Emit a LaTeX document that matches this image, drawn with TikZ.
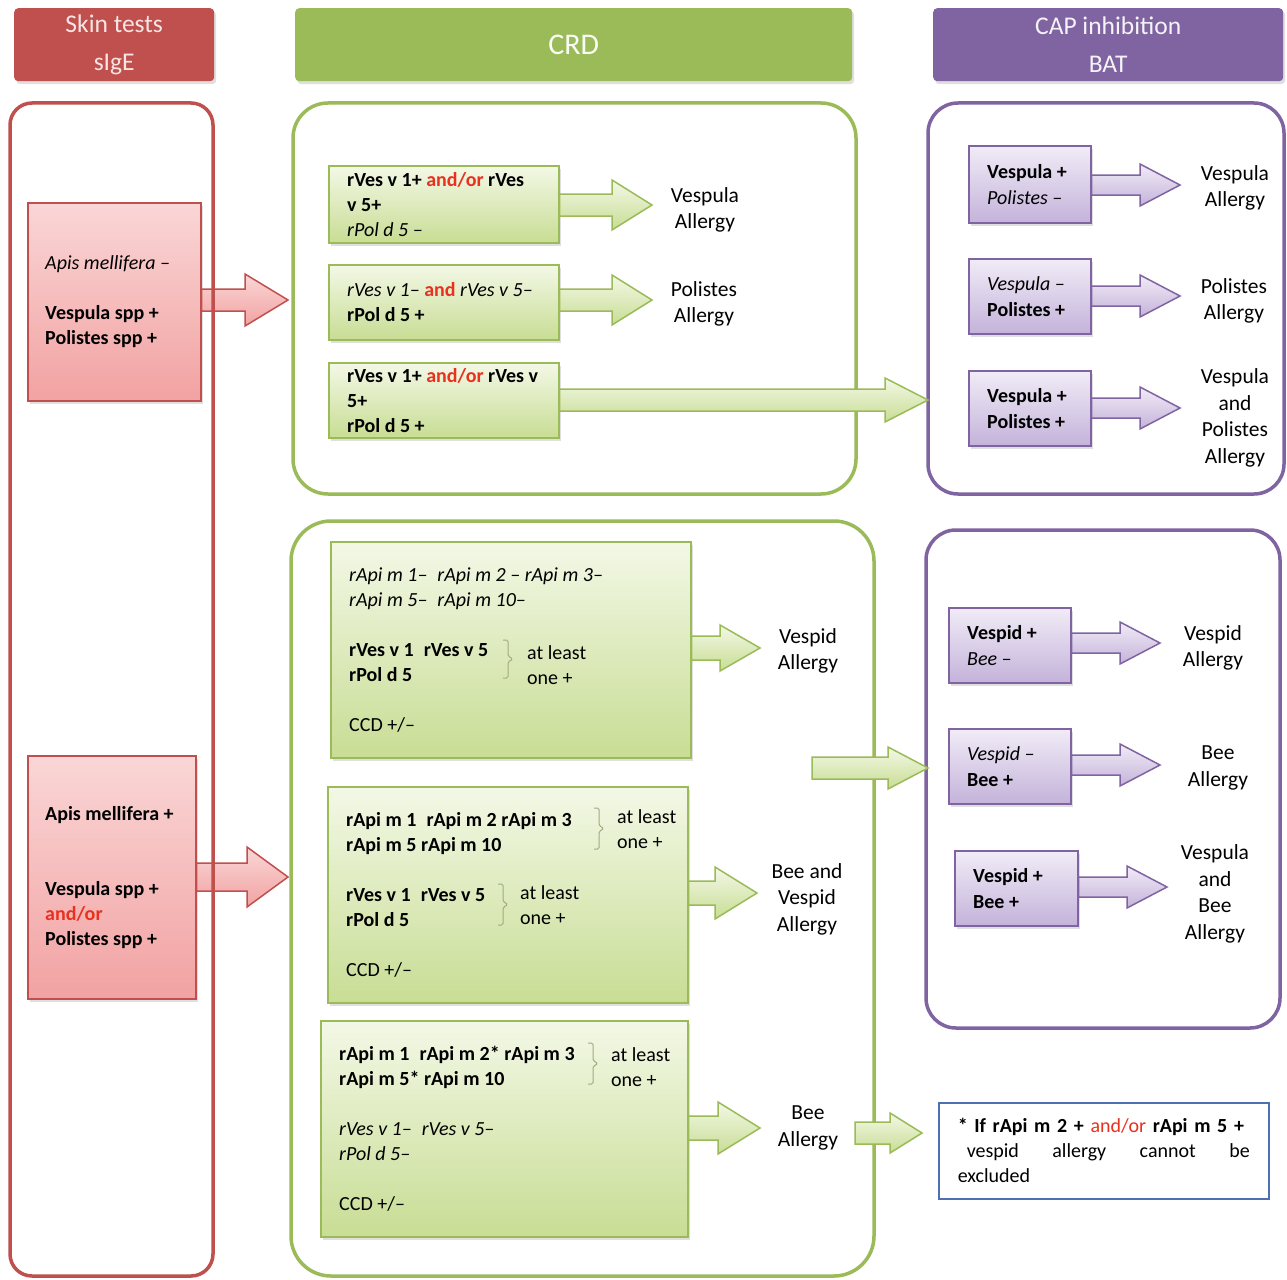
\documentclass[tikz,border=0pt]{standalone}
\usepackage{fontspec}
\setmainfont{Carlito}
\usetikzlibrary{calc,shadows}
\definecolor{cred}{HTML}{C0504D}
\definecolor{cgreen}{HTML}{9BBB59}
\definecolor{cpurple}{HTML}{8064A2}
\definecolor{cblue}{HTML}{4F6FB5}
\definecolor{andred}{HTML}{E8311F}
\definecolor{pinktop}{HTML}{FAD6D6}
\definecolor{pinkbot}{HTML}{F2A2A2}
\definecolor{greentop}{HTML}{F3F8E6}
\definecolor{greenbot}{HTML}{C8DD94}
\definecolor{purptop}{HTML}{F1ECF7}
\definecolor{purpbot}{HTML}{C4B3DA}
\definecolor{bracec}{HTML}{A3AA80}
\newcommand\andor{\textcolor{andred}{and/or}}
\newcommand\blockarrow[6]{%
  \path[#1] let \p1=(#2), \p2=(#3) in
    (\x1,\y2+#4) -- (\x2-#6,\y2+#4) -- (\x2-#6,\y2+#5) -- (\x2,\y2) --
    (\x2-#6,\y2-#5) -- (\x2-#6,\y2-#4) -- (\x1,\y2-#4) -- cycle;}
% bracket: x, top y, bottom y
\newcommand\bracket[3]{%
  \draw[bracestyle] (#1,#2) -- (#1+5,#2) -- (#1+5,{(#2+#3)/2-3}) -- (#1+10,{(#2+#3)/2})
    -- (#1+5,{(#2+#3)/2+3}) -- (#1+5,#3) -- (#1,#3);}
\tikzset{
  shad/.style={drop shadow={opacity=0.25,shadow xshift=2pt,shadow yshift=-3pt}},
  txt/.style={font=\fontsize{20}{25}\selectfont,align=left,inner sep=0pt,anchor=west},
  ptxt/.style={font=\fontsize{20}{26}\selectfont,align=left,inner sep=0pt,anchor=west},
  lbl/.style={font=\fontsize{21.5}{26.5}\selectfont,align=center,inner sep=0pt},
  hdr/.style={rounded corners=4pt,anchor=north west,align=center,inner sep=0pt,
    font=\fontsize{25.5}{38}\selectfont,shad},
  outline/.style={line width=3.5pt},
  gbox/.style={draw=cgreen,line width=1.5pt,top color=greentop,bottom color=greenbot,
    anchor=north west,inner sep=0pt,shad},
  pbox/.style={draw=cpurple,line width=1.5pt,top color=purptop,bottom color=purpbot,
    anchor=north west,inner sep=0pt,shad},
  rbox/.style={draw=cred,line width=1.5pt,top color=pinktop,bottom color=pinkbot,
    anchor=north west,inner sep=0pt,shad},
  garrow/.style={draw=cgreen,line width=1.5pt,top color=greentop,bottom color=greenbot},
  parrow/.style={draw=cpurple,line width=1.5pt,top color=purptop,bottom color=purpbot},
  rarrow/.style={draw=cred,line width=1.5pt,top color=pinktop,bottom color=pinkbot},
  bracestyle/.style={draw=bracec,line width=1pt,rounded corners=1.5pt}
}
\begin{document}
\begin{tikzpicture}[x=1pt,y=-1pt]
\useasboundingbox (0,0) rectangle (1287,1279);
\fill[white] (0,0) rectangle (1287,1279);

% headers
\node[hdr,fill=cred,text=white!85!cred,minimum width=200pt,minimum height=73pt] (h1) at (14,8) {Skin tests\\sIgE};
\node[hdr,fill=cgreen,text=white!95!cgreen,minimum width=557pt,minimum height=73pt,font=\fontsize{30}{34}\selectfont] (h2) at (295,8) {CRD};
\node[hdr,fill=cpurple,text=white!92!cpurple,minimum width=350pt,minimum height=73pt] (h3) at (933,8) {CAP inhibition\\BAT};

% outline frames (green and purple)
\draw[outline,draw=cgreen,rounded corners=35pt] (293,103) rectangle (856,494);
\draw[outline,draw=cgreen,rounded corners=40pt] (291,521) rectangle (874,1276);
\draw[outline,draw=cpurple,rounded corners=30pt] (928,103) rectangle (1284,494);
\draw[outline,draw=cpurple,rounded corners=30pt] (926,530) rectangle (1280,1028);

% pink boxes
\node[rbox,minimum width=173pt,minimum height=198pt] (pk1) at (27,202) {};
\node[txt] (pk1t) at ($(pk1.west)+(18,0)$) {\textit{Apis mellifera –}\\\mbox{}\\\textbf{Vespula spp +}\\\textbf{Polistes spp +}};
\node[rbox,minimum width=168pt,minimum height=243pt] (pk2) at (27,755) {};
\node[txt] (pk2t) at ($(pk2.west)+(18,0)$) {\textbf{Apis mellifera +}\\\mbox{}\\\mbox{}\\\textbf{Vespula spp +}\\\textbf{\textcolor{andred}{and/or}}\\\textbf{Polistes spp +}};
\coordinate (ra1) at (288,300);
\coordinate (ra2) at (288,877);
\blockarrow{rarrow}{pk1.east}{ra1}{11pt}{26pt}{43pt}
\blockarrow{rarrow}{pk2.east}{ra2}{14pt}{30pt}{41pt}
\draw[outline,draw=cred,rounded corners=22pt] (10,103) rectangle (213,1276);

% CRD top section
\node[gbox,minimum width=230pt,minimum height=77pt] (g1) at (328,165) {};
\node[txt] (g1t) at ($(g1.west)+(19,0)$) {\textbf{rVes v 1+ \andor{} rVes}\\\textbf{v 5+}\\\textit{rPol d 5 –}};
\node[gbox,minimum width=230pt,minimum height=75pt] (g2) at (328,264) {};
\node[txt] (g2t) at ($(g2.west)+(19,0)$) {\textit{rVes v 1–} \textbf{\textcolor{andred}{and}} \textit{rVes v 5–}\\\textbf{rPol d 5 +}};
\node[gbox,minimum width=230pt,minimum height=75pt] (g3) at (328,362) {};
\node[txt] (g3t) at ($(g3.west)+(19,0)$) {\textbf{rVes v 1+ \andor{} rVes v}\\\textbf{5+}\\\textbf{rPol d 5 +}};
\coordinate (ga1) at (652,205);
\coordinate (ga2) at (652,300);
\coordinate (ga3) at (928,400);
\blockarrow{garrow}{g1.east}{ga1}{11pt}{25pt}{40pt}
\blockarrow{garrow}{g2.east}{ga2}{11pt}{25pt}{40pt}
\blockarrow{garrow}{g3.east}{ga3}{11pt}{22pt}{43pt}
\node[lbl] (l1) at (705,210) {Vespula\\Allergy};
\node[lbl] (l2) at (704,304) {Polistes\\Allergy};

% CRD bottom section
\node[gbox,minimum width=360pt,minimum height=216pt] (g4) at (330,541) {};
\node[txt] (g4t) at ($(g4.west)+(19,0)$) {\textit{rApi m 1–\enspace rApi m 2 – rApi m 3–}\\\textit{rApi m 5–\enspace rApi m 10–}\\\mbox{}\\\textbf{rVes v 1\enspace rVes v 5}\\\textbf{rPol d 5}\\\mbox{}\\CCD +/–};
\bracket{503}{640}{678}
\node[txt] (g4a) at (527,665) {at least\\one +};

\node[gbox,minimum width=360pt,minimum height=216pt] (g5) at (327,786) {};
\node[txt] (g5t) at ($(g5.west)+(19,0)$) {\textbf{rApi m 1\enspace rApi m 2 rApi m 3}\\\textbf{rApi m 5 rApi m 10}\\\mbox{}\\\textbf{rVes v 1\enspace rVes v 5}\\\textbf{rPol d 5}\\\mbox{}\\CCD +/–};
\bracket{594}{808}{849}
\node[txt] (g5a) at (617,829) {at least\\one +};
\bracket{498}{884}{925}
\node[txt] (g5b) at (520,905) {at least\\one +};

\node[gbox,minimum width=367pt,minimum height=216pt] (g6) at (320,1020) {};
\node[txt] (g6t) at ($(g6.west)+(19,0)$) {\textbf{rApi m 1\enspace rApi m 2* rApi m 3}\\\textbf{rApi m 5* rApi m 10}\\\mbox{}\\\textit{rVes v 1–\enspace rVes v 5–}\\\textit{rPol d 5–}\\\mbox{}\\CCD +/–};
\bracket{588}{1043}{1084}
\node[txt] (g6a) at (611,1067) {at least\\one +};

\coordinate (ga4) at (760,648);
\coordinate (ga5) at (757,893);
\coordinate (ga6) at (760,1128);
\blockarrow{garrow}{g4.east}{ga4}{12pt}{23pt}{40pt}
\blockarrow{garrow}{g5.east}{ga5}{12pt}{26pt}{42pt}
\blockarrow{garrow}{g6.east}{ga6}{12pt}{26pt}{42pt}
\node[lbl] (l4) at (808,651) {Vespid\\Allergy};
\node[lbl] (l5) at (807,899) {Bee and\\Vespid\\Allergy};
\node[lbl] (l6) at (808,1128) {Bee\\Allergy};

\coordinate (ga7s) at (812,768);
\coordinate (ga7) at (928,768);
\blockarrow{garrow}{ga7s}{ga7}{11pt}{21pt}{40pt}
\coordinate (ga8s) at (855,1133);
\coordinate (ga8) at (922,1133);
\blockarrow{garrow}{ga8s}{ga8}{11pt}{20pt}{32pt}

% note
\node[draw=cblue,line width=1.5pt,fill=white,anchor=north west,minimum width=330pt,
  minimum height=96pt,text width=292pt,inner xsep=19pt,inner ysep=0pt,align=left,
  font=\fontsize{20}{25}\selectfont] (note) at (938,1102)
  {\mbox{\textbf{* If rApi m 2 +} \textcolor{andred}{and/or} \textbf{rApi m 5 +}}\\
   \makebox[292pt][l]{\hspace{9pt}vespid\hfill allergy\hfill cannot\hfill be}\\excluded};

% CAP / BAT top
\node[pbox,minimum width=122pt,minimum height=77pt] (p1) at (968,145) {};
\node[ptxt] (p1t) at ($(p1.west)+(19,0)$) {\textbf{Vespula +}\\\textit{Polistes –}};
\node[pbox,minimum width=122pt,minimum height=75pt] (p2) at (968,258) {};
\node[ptxt] (p2t) at ($(p2.west)+(19,0)$) {\textit{Vespula –}\\\textbf{Polistes +}};
\node[pbox,minimum width=122pt,minimum height=75pt] (p3) at (968,370) {};
\node[ptxt] (p3t) at ($(p3.west)+(19,0)$) {\textbf{Vespula +}\\\textbf{Polistes +}};
\coordinate (pa1) at (1180,185);
\coordinate (pa2) at (1180,296);
\coordinate (pa3) at (1180,408);
\blockarrow{parrow}{p1.east}{pa1}{10pt}{21pt}{40pt}
\blockarrow{parrow}{p2.east}{pa2}{10pt}{21pt}{40pt}
\blockarrow{parrow}{p3.east}{pa3}{10pt}{21pt}{40pt}
\node[lbl] (lp1) at (1235,188) {Vespula\\Allergy};
\node[lbl] (lp2) at (1234,301) {Polistes\\Allergy};
\node[lbl] (lp3) at (1235,418) {Vespula\\and\\Polistes\\Allergy};

% CAP / BAT bottom
\node[pbox,minimum width=122pt,minimum height=75pt] (p4) at (948,607) {};
\node[ptxt] (p4t) at ($(p4.west)+(19,0)$) {\textbf{Vespid +}\\\textit{Bee –}};
\node[pbox,minimum width=122pt,minimum height=75pt] (p5) at (948,728) {};
\node[ptxt] (p5t) at ($(p5.west)+(19,0)$) {\textit{Vespid –}\\\textbf{Bee +}};
\node[pbox,minimum width=123pt,minimum height=75pt] (p6) at (954,850) {};
\node[ptxt] (p6t) at ($(p6.west)+(19,0)$) {\textbf{Vespid +}\\\textbf{Bee +}};
\coordinate (pa4) at (1160,643);
\coordinate (pa5) at (1160,765);
\coordinate (pa6) at (1167,887);
\blockarrow{parrow}{p4.east}{pa4}{10pt}{21pt}{40pt}
\blockarrow{parrow}{p5.east}{pa5}{10pt}{21pt}{40pt}
\blockarrow{parrow}{p6.east}{pa6}{10pt}{21pt}{40pt}
\node[lbl] (lp4) at (1213,648) {Vespid\\Allergy};
\node[lbl] (lp5) at (1218,768) {Bee\\Allergy};
\node[lbl] (lp6) at (1215,894) {Vespula\\and\\Bee\\Allergy};
\end{tikzpicture}
\end{document}
